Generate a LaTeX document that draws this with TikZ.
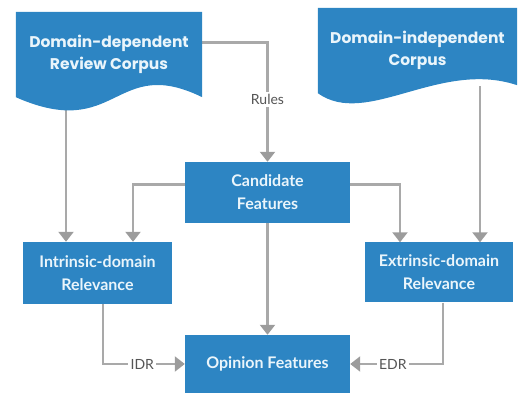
\documentclass[tikz,border=0pt]{standalone}
\usepackage{fontspec}
\setmainfont{Lato}
\newfontfamily\docfont{Poppins}
\usetikzlibrary{arrows.meta,backgrounds,calc,positioning}
\definecolor{boxblue}{HTML}{2D85C3}
\definecolor{boxtext}{HTML}{EAF5FB}
\definecolor{wire}{HTML}{A9A9A9}
\definecolor{tipgray}{HTML}{9C9C9C}
\definecolor{labtext}{HTML}{555555}

\begin{document}
\begin{tikzpicture}[x=1pt, y=1pt,
  box/.style={fill=boxblue, text=boxtext, font=\bfseries\fontsize{16}{23}\selectfont, align=center, inner sep=0pt},
  doc/.style={box, fill=none, font=\docfont\bfseries\fontsize{15.5}{22}\selectfont},
  lab/.style={font=\fontsize{14}{15}\selectfont, text=labtext, fill=white, inner sep=2.5pt},
  arr/.style={draw=wire, line width=2.2pt, -{Triangle[width=15pt, length=10pt, color=tipgray]}}]
\useasboundingbox (0,0) rectangle (520,396);
% ---------- corpora
\node[doc, minimum width=186, minimum height=85] (ddc) at (109,341.5) {Domain-dependent\\Review Corpus};
\node[doc, minimum width=199, minimum height=85] (dic) at (417.5,345.5) {Domain-independent\\Corpus};
% ---------- features and relevance
\node[box, minimum width=165, minimum height=61] (cand) at (267.5,203.5) {Candidate\\Features};
\node[box, minimum width=149, minimum height=62] (intr) at (97.5,123) {Intrinsic-domain\\Relevance};
\node[box, minimum width=148, minimum height=60] (extr) at (439,123.5) {Extrinsic-domain\\Relevance};
\node[box, minimum width=165, minimum height=58] (opin) at (267.5,32) {Opinion Features};
% ---------- edges and wavy corpus shapes
\begin{scope}[on background layer]
\draw[arr] ([yshift=12]ddc.east) -| node[lab, pos=0.74] {Rules} (cand.north);
\draw[arr] ([xshift=-43]ddc.south) -- ([xshift=-43]ddc.south |- intr.north);
\draw[arr] ([xshift=62.5,yshift=7]dic.south) -- ([xshift=62.5]dic.south |- extr.north);
\draw[arr] ([yshift=8]cand.west) -| ([xshift=35.5]intr.north);
\draw[arr] ([yshift=8]cand.east) -| ([xshift=-39]extr.north);
\draw[arr] (cand.south) -- (opin.north);
\draw[arr] ([xshift=5.5]intr.south) |- node[lab, pos=0.74] {IDR} (opin.west);
\draw[arr] ([xshift=4]extr.south) |- node[lab, pos=0.77] {EDR} (opin.east);
\fill[boxblue] (ddc.north west) -- (ddc.north east) -- (ddc.south east)
  .. controls +(-88,43) and +(102,-45) .. (ddc.south west) -- cycle;
\fill[boxblue] (dic.north west) -- (dic.north east) -- ([yshift=8]dic.south east)
  .. controls +(-78,26) and +(49,-35) .. (dic.south west) -- cycle;
\end{scope}
\end{tikzpicture}
\end{document}
